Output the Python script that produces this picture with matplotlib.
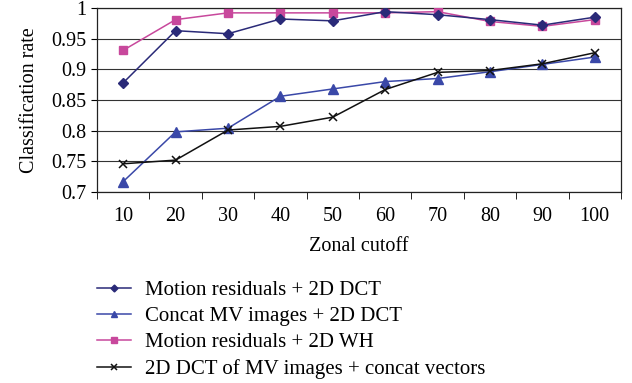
import numpy as np
import matplotlib.pyplot as plt

plt.rcParams['font.family'] = ['Liberation Serif', 'DejaVu Serif']

cutoff = [10, 20, 30, 40, 50, 60, 70, 80, 90, 100]
res_dct = [0.878, 0.963, 0.958, 0.982, 0.979, 0.994, 0.989, 0.981, 0.972, 0.985]
mv_dct = [0.717, 0.798, 0.804, 0.856, 0.868, 0.880, 0.885, 0.896, 0.908, 0.920]
res_wh = [0.931, 0.981, 0.992, 0.992, 0.992, 0.992, 0.994, 0.978, 0.970, 0.981]
dct_concat = [0.746, 0.752, 0.801, 0.807, 0.822, 0.867, 0.895, 0.898, 0.909, 0.927]

labels = ['Motion residuals + 2D DCT', 'Concat MV images + 2D DCT',
          'Motion residuals + 2D WH', '2D DCT of MV images + concat vectors']

fs = 14.5
fig = plt.figure(figsize=(6.32, 3.83), dpi=100)
ax = fig.add_axes([0.1535, 0.4987, 0.829, 0.4805])
x = np.arange(len(cutoff))

ax.plot(x, res_dct, color='#2a2a78', marker='D', ms=5, lw=1.1, label=labels[0], zorder=4)
ax.plot(x, mv_dct, color='#3a48a8', marker='^', ms=7, lw=1.1, label=labels[1], zorder=3)
ax.plot(x, res_wh, color='#c8489c', marker='s', ms=6, lw=1.1, label=labels[2], zorder=3)
ax.plot(x, dct_concat, color='#111111', marker='x', ms=6, mew=1.1, lw=1.1, label=labels[3], zorder=3)

ax.set_xlim(-0.5, len(cutoff) - 0.5)
ax.set_ylim(0.7, 1.0)
ax.set_yticks(np.arange(0.7, 1.001, 0.05))
ax.set_yticklabels(['0.7', '0.75', '0.8', '0.85', '0.9', '0.95', '1'])
ax.set_xticks(x)
ax.set_xticklabels([str(c) for c in cutoff])
ax.set_xticks(np.arange(-0.5, len(cutoff), 1), minor=True)
ax.tick_params(axis='x', which='major', length=0, pad=11, labelsize=fs)
ax.tick_params(axis='x', which='minor', length=5, direction='out')
ax.tick_params(axis='y', length=4, direction='out', labelsize=fs)
ax.yaxis.grid(True, color='#333333', lw=0.8)
ax.set_axisbelow(True)
for s in ax.spines.values():
    s.set_color('#222222')
    s.set_linewidth(0.9)

ax.set_xlabel('Zonal cutoff', fontsize=fs, labelpad=8)
ax.set_ylabel('Classification rate', fontsize=fs, labelpad=9)

fig.legend(loc='upper left', bbox_to_anchor=(0.141, 0.29), frameon=False,
           fontsize=15, handlelength=1.6, labelspacing=0.32, handletextpad=0.7,
           markerscale=0.7, borderaxespad=0)

fig.savefig('out.png', dpi=100)
